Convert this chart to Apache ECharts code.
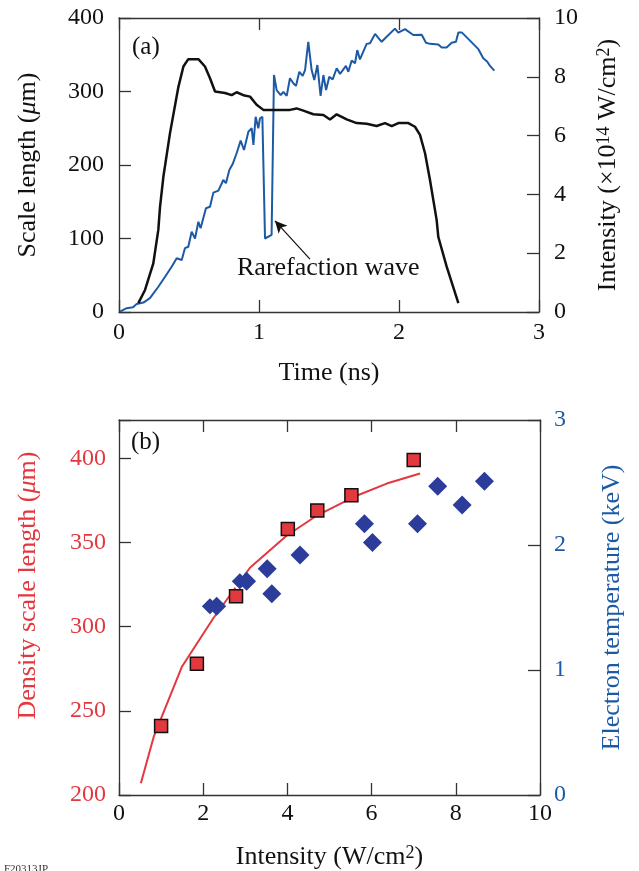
<!DOCTYPE html>
<html>
<head>
<meta charset="utf-8">
<script src="https://cdn.jsdelivr.net/npm/echarts@6/dist/echarts.min.js"></script>
<style>
  html, body { margin: 0; padding: 0; background: #fff; }
  #chart { width: 639px; height: 871px; }
</style>
</head>
<body>
<div id="chart"></div>
<script>
// panel (a): scale length (black) and laser intensity (blue) vs time
const scaleT = [0.138, 0.186, 0.245, 0.281, 0.293, 0.317, 0.364, 0.424, 0.46, 0.495, 0.567, 0.614, 0.65, 0.686, 0.757, 0.805, 0.84, 0.888, 0.936, 0.983, 1.031, 1.221, 1.269, 1.317, 1.388, 1.46, 1.507, 1.555, 1.626, 1.698, 1.769, 1.84, 1.9, 1.948, 1.995, 2.067, 2.114, 2.15, 2.186, 2.221, 2.269, 2.281, 2.34, 2.424]
const scaleLen = [12, 30, 66, 112, 143, 184, 243, 306, 334, 344, 344, 334, 318, 300, 298, 295, 299, 295, 293, 282, 275, 275, 277, 274, 269, 268, 262, 269, 262, 257, 256, 253, 257, 253, 257, 257, 252, 241, 216, 180, 125, 102, 62, 12]

const intT = [0.007, 0.055, 0.1, 0.126, 0.174, 0.221, 0.281, 0.329, 0.376, 0.412, 0.448, 0.471, 0.495, 0.519, 0.543, 0.567, 0.583, 0.621, 0.65, 0.674, 0.71, 0.745, 0.764, 0.788, 0.812, 0.84, 0.869, 0.893, 0.924, 0.948, 0.96, 0.976, 0.995, 1.007, 1.024, 1.043, 1.09, 1.107, 1.126, 1.155, 1.174, 1.198, 1.221, 1.245, 1.264, 1.288, 1.312, 1.329, 1.352, 1.376, 1.395, 1.417, 1.44, 1.46, 1.479, 1.502, 1.526, 1.555, 1.579, 1.621, 1.638, 1.662, 1.686, 1.702, 1.721, 1.769, 1.793, 1.829, 1.876, 1.912, 1.971, 1.995, 2.043, 2.102, 2.162, 2.193, 2.221, 2.281, 2.305, 2.34, 2.376, 2.407, 2.424, 2.448, 2.507, 2.567, 2.602, 2.631, 2.65, 2.681]
const intensity = [0.01, 0.13, 0.16, 0.27, 0.32, 0.47, 0.86, 1.2, 1.54, 1.83, 1.77, 2.17, 2.22, 2.73, 2.5, 3.07, 2.85, 3.53, 3.58, 4.06, 4.13, 4.49, 4.38, 4.83, 5.03, 5.4, 5.83, 5.51, 6.13, 6.25, 5.68, 6.64, 6.25, 6.59, 6.64, 2.5, 2.62, 8.06, 7.55, 7.38, 7.49, 7.35, 7.95, 7.78, 7.69, 8.17, 8.03, 8.23, 9.19, 8.23, 7.89, 8.4, 7.35, 8.06, 7.55, 8.0, 7.91, 8.29, 8.1, 8.37, 8.17, 8.55, 8.46, 8.91, 8.59, 9.12, 9.14, 9.46, 9.19, 9.36, 9.64, 9.5, 9.62, 9.42, 9.43, 9.16, 9.12, 9.1, 9.0, 9.0, 9.16, 9.19, 9.51, 9.51, 9.23, 8.94, 8.63, 8.51, 8.37, 8.21]

// arrow for the rarefaction wave: [tail, head] in (time, scale length)
const arrowT = [1.364, 1.114]
const arrowL = [72, 124]

// panel (b): density scale length (red) and electron temperature (blue) vs intensity
const fitI = [0.52, 0.83, 1.49, 2.24, 3.11, 3.98, 4.7, 5.57, 6.36, 7.15]
const fitLen = [207, 235, 276, 305, 335, 354, 366, 377, 385, 391]
const measI = [1.0, 1.85, 2.78, 4.01, 4.71, 5.52, 7.0]
const measLen = [241, 278, 318, 358, 369, 378, 399]
const tempI = [2.32, 3.03, 3.52, 3.63, 4.3, 5.83, 6.02, 7.09, 7.57, 8.15, 8.68]
const tempKeV = [1.51, 1.71, 1.81, 1.61, 1.92, 2.17, 2.02, 2.17, 2.47, 2.32, 2.51]
const tempOpenI = [2.16, 2.87]
const tempOpenKeV = [1.51, 1.71]

const RED = '#e2383f'
const BLUE = '#1d5aa5'
const DIAMOND = '#2b3c9a'
const FONT = '"Liberation Serif", "DejaVu Serif", serif'

const zip = (a, b) => a.map((v, i) => [v, b[i]])

const chart = echarts.init(document.getElementById('chart'))

const frame = { show: true, onZero: false, lineStyle: { color: '#333', width: 1.3 } }
const tick = { show: true, inside: true, length: 12, lineStyle: { color: '#333', width: 1.3 } }
const lbl = (color, margin) => ({ fontFamily: FONT, fontSize: 24, color: color, margin: margin })
const nameStyle = (color, extra) => Object.assign({
  fontFamily: FONT, fontSize: 26, color: color,
  rich: {
    sup: { fontFamily: FONT, fontSize: 18, color: color, verticalAlign: 'top', lineHeight: 26 },
    it: { fontFamily: FONT, fontSize: 26, color: color, fontStyle: 'italic' }
  }
}, extra || {})

const option = {
  backgroundColor: '#fff',
  animation: false,
  grid: [
    { left: 119, top: 18, width: 420, height: 294 },
    { left: 119, top: 420, width: 421, height: 375 }
  ],
  xAxis: [
    {
      type: 'value', gridIndex: 0, position: 'bottom', min: 0, max: 3, interval: 1,
      axisLine: frame, axisTick: tick, splitLine: { show: false },
      axisLabel: lbl('#111', 9),
      name: 'Time (ns)', nameLocation: 'middle', nameGap: 48, nameTextStyle: nameStyle('#111')
    },
    {
      type: 'value', gridIndex: 0, position: 'top', min: 0, max: 3, interval: 1,
      axisLine: frame, axisTick: tick, splitLine: { show: false }, axisLabel: { show: false }
    },
    {
      type: 'value', gridIndex: 1, position: 'bottom', min: 0, max: 10, interval: 2,
      axisLine: frame, axisTick: tick, splitLine: { show: false },
      axisLabel: lbl('#111', 7),
      name: 'Intensity (W/cm{sup|2})', nameLocation: 'middle', nameGap: 49, nameTextStyle: nameStyle('#111')
    },
    {
      type: 'value', gridIndex: 1, position: 'top', min: 0, max: 10, interval: 2,
      axisLine: frame, axisTick: tick, splitLine: { show: false }, axisLabel: { show: false }
    }
  ],
  yAxis: [
    {
      type: 'value', gridIndex: 0, position: 'left', min: 0, max: 400, interval: 100,
      axisLine: frame, axisTick: tick, splitLine: { show: false },
      axisLabel: lbl('#111', 15),
      name: 'Scale length ({it|\u03bc}m)', nameLocation: 'middle', nameRotate: 90, nameGap: 78,
      nameTextStyle: nameStyle('#111')
    },
    {
      type: 'value', gridIndex: 0, position: 'right', min: 0, max: 10, interval: 2,
      axisLine: frame, axisTick: tick, splitLine: { show: false },
      axisLabel: lbl('#111', 15),
      name: 'Intensity (\u00d710{sup|14} W/cm{sup|2})', nameLocation: 'middle', nameRotate: 90, nameGap: 56,
      nameTextStyle: nameStyle('#111')
    },
    {
      type: 'value', gridIndex: 1, position: 'left', min: 200, max: 422.75, interval: 50,
      axisLine: frame, axisTick: tick, splitLine: { show: false },
      axisLabel: Object.assign(lbl(RED, 13), {
        formatter: v => (v % 50 === 0 ? String(v) : '')
      }),
      name: 'Density scale length ({it|\u03bc}m)', nameLocation: 'middle', nameRotate: 90, nameGap: 78,
      nameTextStyle: nameStyle(RED, { padding: [0, 0, 0, 44] })
    },
    {
      type: 'value', gridIndex: 1, position: 'right', min: 0, max: 3, interval: 1,
      axisLine: frame, axisTick: tick, splitLine: { show: false },
      axisLabel: lbl(BLUE, 14),
      name: 'Electron temperature (keV)', nameLocation: 'middle', nameRotate: 90, nameGap: 59,
      nameTextStyle: nameStyle(BLUE)
    }
  ],
  graphic: [
    { type: 'text', x: 132, y: 47, style: { text: '(a)', font: '25px ' + FONT, fill: '#111', textVerticalAlign: 'middle' } },
    { type: 'text', x: 131, y: 442, style: { text: '(b)', font: '25px ' + FONT, fill: '#111', textVerticalAlign: 'middle' } },
    { type: 'text', x: 237, y: 268, style: { text: 'Rarefaction wave', font: '26px ' + FONT, fill: '#111', textVerticalAlign: 'middle' } },
    { type: 'text', x: 4, y: 864, style: { text: 'F20313JP', font: '11px ' + FONT, fill: '#333' } }
  ],
  series: [
    {
      name: 'Intensity', type: 'line', xAxisIndex: 0, yAxisIndex: 1,
      data: zip(intT, intensity), symbol: 'none', z: 2,
      lineStyle: { color: BLUE, width: 2 }
    },
    {
      name: 'Scale length', type: 'line', xAxisIndex: 0, yAxisIndex: 0,
      data: zip(scaleT, scaleLen), symbol: 'none', z: 3,
      lineStyle: { color: '#111', width: 2.5 },
      markLine: {
        silent: true, symbol: ['none', 'arrow'], symbolSize: [9, 12],
        label: { show: false },
        lineStyle: { color: '#111', width: 1.2, type: 'solid' },
        data: [[{ coord: [arrowT[0], arrowL[0]] }, { coord: [arrowT[1], arrowL[1]] }]]
      }
    },
    {
      name: 'Fit', type: 'line', xAxisIndex: 2, yAxisIndex: 2,
      data: zip(fitI, fitLen), symbol: 'none', z: 2,
      lineStyle: { color: RED, width: 2 }
    },
    {
      name: 'Te (open)', type: 'scatter', xAxisIndex: 2, yAxisIndex: 3,
      data: zip(tempOpenI, tempOpenKeV), symbol: 'diamond', symbolSize: [19, 19], z: 3,
      itemStyle: { color: DIAMOND, borderColor: '#fff', borderWidth: 2, opacity: 1 }
    },
    {
      name: 'Te', type: 'scatter', xAxisIndex: 2, yAxisIndex: 3,
      data: zip(tempI, tempKeV), symbol: 'diamond', symbolSize: [19, 19], z: 4,
      itemStyle: { color: DIAMOND, opacity: 1 }
    },
    {
      name: 'Density scale length', type: 'scatter', xAxisIndex: 2, yAxisIndex: 2,
      data: zip(measI, measLen), symbol: 'rect', symbolSize: 13, z: 5,
      itemStyle: { color: RED, borderColor: '#111', borderWidth: 1.5, opacity: 1 }
    }
  ]
}

chart.setOption(option)
window.addEventListener('resize', () => chart.resize())
</script>
</body>
</html>
